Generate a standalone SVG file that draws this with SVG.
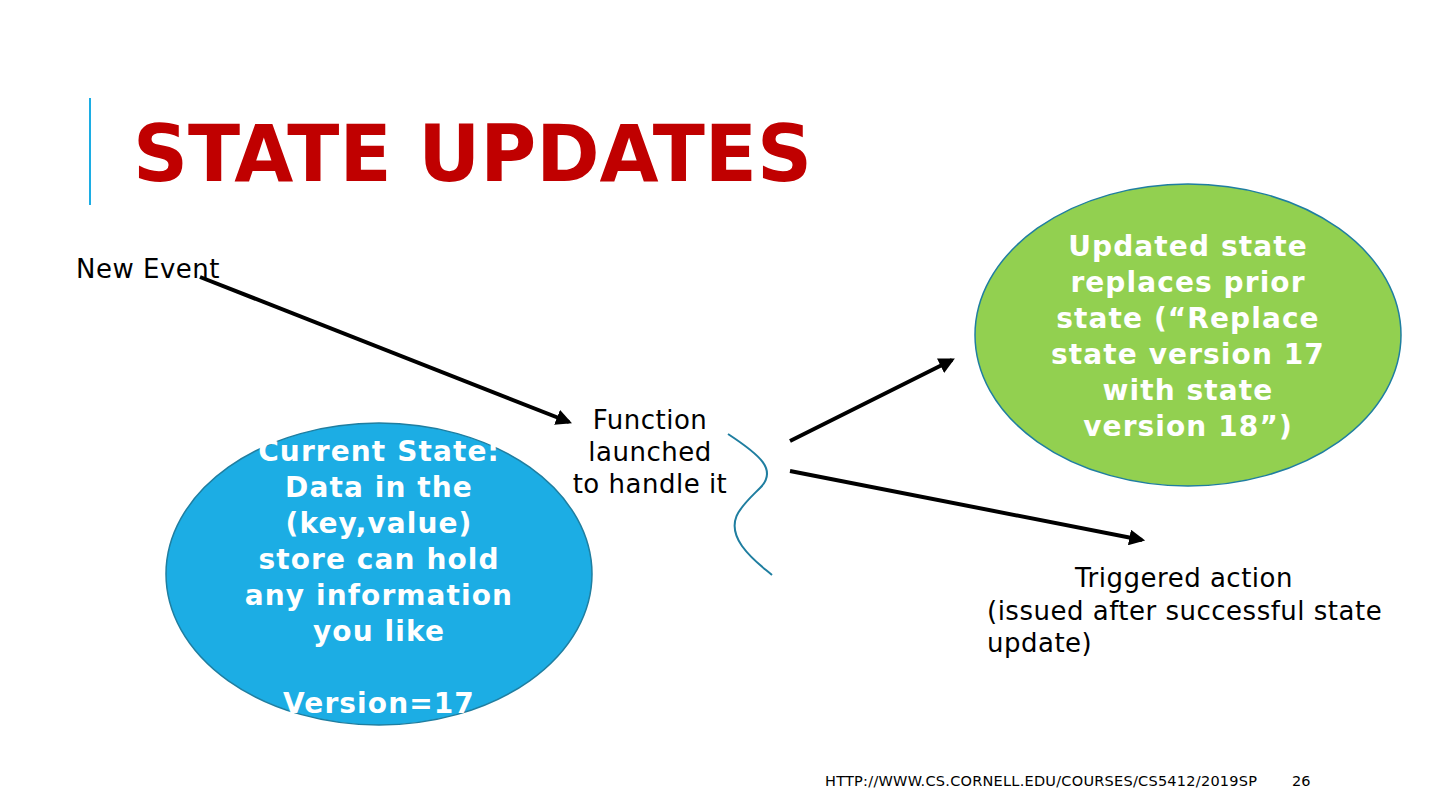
<svg xmlns="http://www.w3.org/2000/svg" width="1440" height="810" viewBox="0 0 1440 810">
<defs>
<marker id="ah" markerWidth="4" markerHeight="4" refX="3.2" refY="2" orient="auto" markerUnits="strokeWidth">
<path d="M0,0 L4,2 L0,4 Z" fill="#000"/>
</marker>
<style>
.t{font-family:"DejaVu Sans","Liberation Sans",sans-serif;fill:#000;letter-spacing:0.5px}
.w{font-family:"DejaVu Sans","Liberation Sans",sans-serif;font-weight:bold;fill:#fff;font-size:28px;text-anchor:middle;letter-spacing:1.1px}
.c{stroke:#000;stroke-width:4;fill:none;marker-end:url(#ah)}
</style>
</defs>
<rect width="1440" height="810" fill="#fff"/>
<g id="title">
<line x1="90" y1="98" x2="90" y2="205" stroke="#1CADE4" stroke-width="2"/>
<text x="133" y="181" font-family="DejaVu Sans,Liberation Sans,sans-serif" font-weight="bold" font-size="79" fill="#C00000" textLength="679" lengthAdjust="spacingAndGlyphs">STATE UPDATES</text>
</g>
<g id="connectors">
<line class="c" x1="200" y1="277" x2="569" y2="422"/>
<line class="c" x1="790" y1="441" x2="952" y2="360"/>
<line class="c" x1="790" y1="471" x2="1142" y2="540"/>
<path d="M728,434 C760,455 778,470 760,488 C742,506 724,520 742,546 C752,560 764,568 772,575" fill="none" stroke="#1F7EA0" stroke-width="2"/>
</g>
<g id="new-event">
<text class="t" x="76" y="278" font-size="26">New Event</text>
</g>
<g id="function">
<text class="t" font-size="26" text-anchor="middle"><tspan x="650" y="429">Function</tspan><tspan x="650" y="461">launched</tspan><tspan x="650" y="493">to handle it</tspan></text>
</g>
<g id="current-state">
<ellipse cx="379" cy="574" rx="213" ry="151" fill="#1CADE4" stroke="#1F7EA0" stroke-width="1.5"/>
<text class="w"><tspan x="379" y="461">Current State:</tspan><tspan x="379" y="497">Data in the</tspan><tspan x="379" y="533">(key,value)</tspan><tspan x="379" y="569">store can hold</tspan><tspan x="379" y="605">any information</tspan><tspan x="379" y="641">you like</tspan><tspan x="379" y="713">Version=17</tspan></text>
</g>
<g id="updated-state">
<ellipse cx="1188" cy="335" rx="213" ry="151" fill="#92D050" stroke="#1F7EA0" stroke-width="1.5"/>
<text class="w"><tspan x="1188" y="256">Updated state</tspan><tspan x="1188" y="292">replaces prior</tspan><tspan x="1188" y="328">state (“Replace</tspan><tspan x="1188" y="364">state version 17</tspan><tspan x="1188" y="400">with state</tspan><tspan x="1188" y="436">version 18”)</tspan></text>
</g>
<g id="triggered">
<text class="t" font-size="26"><tspan x="1184" y="587" text-anchor="middle">Triggered action</tspan><tspan x="987" y="620">(issued after successful state</tspan><tspan x="987" y="652">update)</tspan></text>
</g>
<g id="footer">
<text class="t" x="825" y="786" font-size="14.5" style="letter-spacing:0.25px">HTTP://WWW.CS.CORNELL.EDU/COURSES/CS5412/2019SP</text>
<text class="t" x="1292" y="786" font-size="14.5" style="letter-spacing:0">26</text>
</g>
</svg>
